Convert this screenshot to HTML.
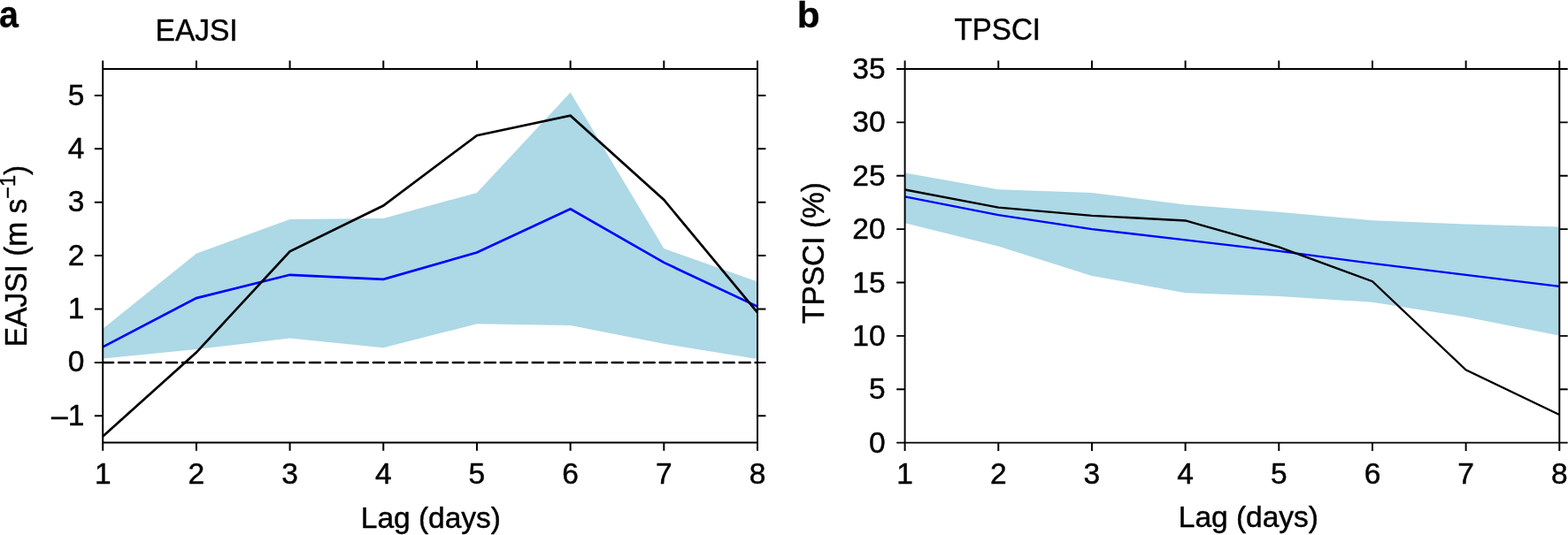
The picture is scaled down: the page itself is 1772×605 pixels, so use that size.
<!DOCTYPE html>
<html lang="en">
<head>
<meta charset="utf-8">
<title>EAJSI and TPSCI versus lag</title>
<style>
html,body{margin:0;padding:0;background:#fff;}
body{width:1772px;height:605px;overflow:hidden;}
svg{display:block;}
svg text{font-family:"Liberation Sans",sans-serif;font-size:33.5px;fill:#000;stroke:#000;stroke-width:0.45px;stroke-linejoin:round;}
svg text.tag{font-size:41.8px;font-weight:bold;stroke-width:0.3px;}
svg .sup{font-size:23.5px;}
.band{fill:#add8e6;}
.zero{stroke:#000;stroke-width:2.45;stroke-linecap:round;stroke-dasharray:12.1 5.89;}
.mean{fill:none;stroke:#0000ff;stroke-linejoin:miter;}
.obs{fill:none;stroke:#000;stroke-linejoin:miter;}
.axis{fill:none;stroke:#000;}
</style>
</head>
<body>
<svg width="1772" height="605" viewBox="0 0 1772 605">
<rect width="1772" height="605" fill="#fff"/>
<g id="panel-a">
<polygon class="band" points="116.2,371.8 221.89,286.8 327.57,247.9 433.26,246.9 538.94,217.9 644.63,104.6 750.31,281.1 856,318.5 856,406.1 750.31,388.8 644.63,367.9 538.94,366.2 433.26,393.3 327.57,382.5 221.89,394.9 116.2,405.6"/>
<line class="zero" x1="116" y1="410" x2="856" y2="410"/>
<polyline class="mean" stroke-width="2.7" points="116.2,392.4 221.89,337.1 327.57,310.8 433.26,315.9 538.94,285.5 644.63,236.3 750.31,296.9 856,346.6"/>
<polyline class="obs" stroke-width="2.7" points="116.2,493.4 221.89,398.6 327.57,284.3 433.26,232.5 538.94,153.2 644.63,130.7 750.31,226 856,353.3"/>
<path class="axis" stroke-width="2.0" d="M116.2 78H856M116.2 500.45H856M116.2 68.6V509.85M856 68.6V509.85M221.89 68.6V78M221.89 500.45V509.85M327.57 68.6V78M327.57 500.45V509.85M433.26 68.6V78M433.26 500.45V509.85M538.94 68.6V78M538.94 500.45V509.85M644.63 68.6V78M644.63 500.45V509.85M750.31 68.6V78M750.31 500.45V509.85M106.8 470.27H116.2M856 470.27H865.4M106.8 409.88H116.2M856 409.88H865.4M106.8 349.49H116.2M856 349.49H865.4M106.8 289.1H116.2M856 289.1H865.4M106.8 228.71H116.2M856 228.71H865.4M106.8 168.32H116.2M856 168.32H865.4M106.8 107.93H116.2M856 107.93H865.4"/>
<g text-anchor="middle">
<text x="116.2" y="547.2">1</text>
<text x="221.89" y="547.2">2</text>
<text x="327.57" y="547.2">3</text>
<text x="433.26" y="547.2">4</text>
<text x="538.94" y="547.2">5</text>
<text x="644.63" y="547.2">6</text>
<text x="750.31" y="547.2">7</text>
<text x="856" y="547.2">8</text>
</g>
<g text-anchor="end">
<text x="95.3" y="480.87">–1</text>
<text x="95.3" y="420.48">0</text>
<text x="95.3" y="360.09">1</text>
<text x="95.3" y="299.7">2</text>
<text x="95.3" y="239.31">3</text>
<text x="95.3" y="178.92">4</text>
<text x="95.3" y="118.53">5</text>
</g>
<text transform="translate(175.6 46.45) scale(1 1.05)">EAJSI</text>
<text class="tag" transform="translate(-1.05 31.4) scale(0.94 1)">a</text>
<text x="486.9" y="597.1" text-anchor="middle">Lag (days)</text>
<text transform="translate(30.3 392.2) rotate(-90) scale(1 1.04)">EAJSI (m s<tspan class="sup" dy="-12.6">−1</tspan><tspan dy="12.6">)</tspan></text>
</g>
<g id="panel-b">
<polygon class="band" points="1022.6,195.4 1128.27,214.2 1233.94,217.9 1339.61,231.5 1445.29,239.7 1550.96,249.2 1656.63,253.6 1762.3,256.5 1762.3,379.5 1656.63,358.4 1550.96,341.8 1445.29,335.1 1339.61,331.2 1233.94,311.9 1128.27,278.4 1022.6,252.2"/>
<polyline class="mean" stroke-width="2.3" points="1022.6,222.3 1128.27,243.2 1233.94,259.1 1339.61,271.3 1445.29,283.8 1550.96,297.9 1656.63,310.8 1762.3,323.9"/>
<polyline class="obs" stroke-width="2.3" points="1022.6,214.5 1128.27,234.7 1233.94,243.8 1339.61,249.5 1445.29,279.4 1550.96,318.2 1656.63,418.4 1762.3,469"/>
<path class="axis" stroke-width="1.95" d="M1022.6 78H1762.3M1022.6 500.6H1762.3M1022.6 68.6V510M1762.3 68.6V510M1128.27 68.6V78M1128.27 500.6V510M1233.94 68.6V78M1233.94 500.6V510M1339.61 68.6V78M1339.61 500.6V510M1445.29 68.6V78M1445.29 500.6V510M1550.96 68.6V78M1550.96 500.6V510M1656.63 68.6V78M1656.63 500.6V510M1013.2 500.6H1022.6M1762.3 500.6H1771.7M1013.2 440.23H1022.6M1762.3 440.23H1771.7M1013.2 379.86H1022.6M1762.3 379.86H1771.7M1013.2 319.49H1022.6M1762.3 319.49H1771.7M1013.2 259.12H1022.6M1762.3 259.12H1771.7M1013.2 198.75H1022.6M1762.3 198.75H1771.7M1013.2 138.38H1022.6M1762.3 138.38H1771.7M1013.2 78.01H1022.6M1762.3 78.01H1771.7"/>
<g text-anchor="middle">
<text x="1022.6" y="547.2">1</text>
<text x="1128.27" y="547.2">2</text>
<text x="1233.94" y="547.2">3</text>
<text x="1339.61" y="547.2">4</text>
<text x="1445.29" y="547.2">5</text>
<text x="1550.96" y="547.2">6</text>
<text x="1656.63" y="547.2">7</text>
<text x="1762.3" y="547.2">8</text>
</g>
<g text-anchor="end">
<text x="1000.6" y="511.7">0</text>
<text x="1000.6" y="451.33">5</text>
<text x="1000.6" y="390.96">10</text>
<text x="1000.6" y="330.59">15</text>
<text x="1000.6" y="270.22">20</text>
<text x="1000.6" y="209.85">25</text>
<text x="1000.6" y="149.48">30</text>
<text x="1000.6" y="89.11">35</text>
</g>
<text transform="translate(1078.4 44.5) scale(0.99 1.05)">TPSCI</text>
<text class="tag" style="font-size:40.5px" transform="translate(900.65 31.2) scale(1.045 1)">b</text>
<text x="1410.9" y="595.5" text-anchor="middle">Lag (days)</text>
<text transform="translate(931.4 366.0) rotate(-90) scale(1 1.04)">TPSCI (%)</text>
</g>
</svg>
</body>
</html>
